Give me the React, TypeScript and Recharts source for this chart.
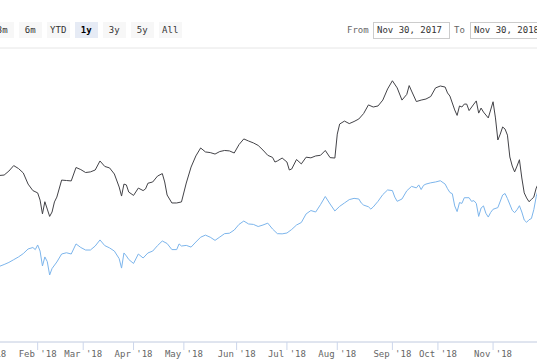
import React from 'react';
import { LineChart, Line, XAxis, YAxis, CartesianGrid } from 'recharts';

// trading-day index (0 = Nov 30, 2017) and value
const DARK_SERIES: [number, number][] = [
  [26, 179.3], [28, 179.5], [30, 181.4], [32, 184.0], [34, 182.6], [36, 180.5], [38, 175.2], [40, 172.1],
  [42, 171.0], [43, 167.6], [44, 161.0], [45, 166.8], [46, 163.3], [47, 159.8], [48, 161.9], [49, 166.7],
  [50, 169.0], [52, 177.1], [54, 176.9], [56, 176.7], [58, 183.1], [60, 182.1], [62, 180.7], [64, 181.0],
  [66, 181.9], [68, 186.2], [70, 183.6], [72, 182.9], [74, 180.0], [76, 173.8], [77, 169.5], [78, 175.2],
  [79, 174.8], [80, 171.4], [82, 169.8], [84, 173.3], [86, 172.1], [87, 172.9], [88, 175.6], [90, 176.2],
  [92, 179.0], [94, 180.2], [95, 176.2], [96, 170.0], [98, 166.2], [100, 166.2], [102, 166.7], [104, 175.7],
  [106, 183.3], [108, 188.6], [110, 192.4], [112, 190.5], [114, 190.2], [116, 189.5], [118, 190.7], [120, 191.2],
  [122, 191.0], [124, 190.0], [126, 194.0], [128, 196.7], [130, 195.7], [132, 194.8], [134, 193.6], [136, 191.4],
  [138, 188.9], [140, 187.9], [141, 185.7], [142, 186.2], [144, 187.6], [146, 185.7], [147, 181.9], [148, 182.4],
  [150, 186.9], [152, 184.8], [154, 188.0], [156, 187.7], [158, 188.6], [160, 188.9], [162, 191.2], [164, 187.8],
  [166, 187.6], [167, 199.0], [168, 203.8], [170, 205.2], [172, 204.0], [174, 205.0], [176, 206.2], [178, 208.8],
  [180, 212.9], [182, 211.9], [184, 212.4], [186, 215.2], [188, 220.5], [190, 224.4], [192, 221.0], [194, 215.2],
  [196, 217.9], [197, 222.1], [198, 219.5], [200, 214.5], [202, 215.2], [204, 215.7], [206, 216.9], [208, 221.0],
  [210, 221.9], [212, 221.4], [213, 218.6], [214, 217.1], [216, 210.5], [217, 207.9], [218, 212.4], [219, 211.9],
  [220, 213.3], [221, 213.3], [222, 210.2], [224, 213.3], [225, 214.8], [226, 209.0], [227, 211.4], [228, 209.5],
  [230, 206.7], [232, 214.4], [233, 206.7], [234, 196.2], [235, 199.0], [236, 202.4], [237, 201.4], [238, 198.5],
  [239, 188.1], [240, 183.8], [241, 181.0], [242, 183.8], [243, 186.8], [244, 178.1], [245, 171.0], [246, 168.6],
  [247, 166.8], [248, 167.9], [249, 169.0], [250, 173.3], [251, 175.7], [252, 177.1],
];

const BLUE_SERIES: [number, number][] = [
  [26, 136.0], [28, 136.9], [30, 137.9], [32, 139.2], [34, 140.5], [36, 142.1], [38, 144.3], [40, 145.0],
  [41, 144.0], [42, 146.2], [43, 143.3], [44, 136.2], [45, 140.5], [46, 138.3], [47, 131.9], [48, 135.0],
  [50, 138.1], [52, 141.9], [54, 142.5], [56, 141.9], [57, 144.3], [58, 146.7], [60, 145.0], [62, 143.8],
  [64, 143.8], [66, 145.7], [68, 148.6], [70, 145.9], [72, 144.8], [74, 143.3], [76, 139.7], [77, 135.2],
  [78, 142.4], [79, 141.0], [80, 139.3], [82, 137.4], [84, 141.9], [86, 140.0], [88, 142.4], [90, 143.3],
  [92, 145.9], [94, 148.1], [96, 146.9], [98, 144.0], [100, 144.0], [101, 146.7], [102, 145.7], [104, 146.0],
  [106, 145.2], [108, 147.6], [110, 149.9], [112, 150.9], [114, 149.9], [116, 148.4], [118, 150.0], [120, 151.6],
  [122, 151.8], [124, 153.3], [126, 156.0], [128, 157.6], [130, 156.2], [132, 156.0], [134, 155.0], [136, 155.7],
  [138, 156.6], [140, 153.8], [142, 151.6], [144, 151.5], [146, 151.9], [148, 153.6], [150, 155.7], [152, 156.9],
  [154, 161.0], [156, 162.6], [158, 161.9], [160, 165.4], [162, 169.3], [164, 165.7], [166, 162.4], [168, 164.6],
  [170, 166.2], [172, 167.8], [174, 168.4], [176, 168.1], [177, 166.2], [178, 165.2], [180, 164.4], [181, 163.3],
  [182, 164.3], [184, 167.0], [186, 170.2], [188, 172.4], [190, 172.1], [191, 169.0], [192, 167.0], [194, 168.1],
  [196, 172.0], [198, 174.1], [200, 173.4], [201, 174.8], [202, 172.6], [203, 174.6], [204, 175.2], [206, 175.8],
  [208, 176.2], [210, 176.8], [212, 175.2], [213, 173.0], [214, 171.2], [215, 170.6], [216, 164.8], [217, 162.1],
  [218, 166.4], [219, 166.0], [220, 168.7], [222, 168.7], [223, 167.0], [224, 167.3], [225, 166.0], [226, 159.8],
  [227, 163.8], [228, 164.8], [229, 161.3], [230, 159.5], [231, 161.7], [232, 163.2], [234, 164.0], [236, 170.0],
  [237, 170.7], [238, 168.3], [240, 162.7], [241, 161.6], [242, 163.0], [243, 164.9], [244, 161.9], [245, 158.1],
  [246, 157.0], [247, 158.2], [248, 158.8], [249, 163.0], [250, 169.2], [251, 173.3], [252, 174.8],
];

// first trading day of each month
const MONTH_TICKS = [21, 42, 61, 82, 103, 125, 146, 167, 190, 209, 232];
const MONTH_LABELS = ["Jan '18", "Feb '18", "Mar '18", "Apr '18", "May '18", "Jun '18", "Jul '18", "Aug '18", "Sep '18", "Oct '18", "Nov '18"];
const Y_TICKS = [100, 120, 140, 160, 180, 200, 220, 240];

const RANGE_BUTTONS = ['3m', '6m', 'YTD', '1y', '3y', '5y', 'All'];
const SELECTED_RANGE = '1y';
const FROM_DATE = 'Nov 30, 2017';
const TO_DATE = 'Nov 30, 2018';

const FONT = '"DejaVu Sans Mono", monospace';

const toPoints = (s: [number, number][]) => s.map(([i, v]) => ({ i, v }));

export default function App() {
  const dark = toPoints(DARK_SERIES);
  const blue = toPoints(BLUE_SERIES);
  const labelFor = (t: number) => MONTH_LABELS[MONTH_TICKS.indexOf(t)] ?? '';

  return (
    <div style={{
      position: 'relative', width: 537, height: 360, overflow: 'hidden',
      background: '#fff', fontFamily: FONT,
    }}>
      <style>{'body{margin:0}'}</style>

      <div style={{ position: 'absolute', left: -63, top: 0 }}>
        <LineChart width={604} height={372} margin={{ top: 48, right: 0, bottom: 0, left: 0 }}>
          <CartesianGrid vertical={false} stroke="#e6e6e6" />
          <XAxis
            type="number"
            dataKey="i"
            domain={[0, 252]}
            ticks={MONTH_TICKS}
            interval={0}
            tickFormatter={labelFor}
            height={30}
            axisLine={{ stroke: '#ccd6eb' }}
            tickLine={{ stroke: '#ccd6eb' }}
            tickSize={8}
            tickMargin={1}
            tick={{ fontSize: 9, fill: '#666', fontFamily: FONT }}
          />
          <YAxis
            type="number"
            domain={[100, 240]}
            ticks={Y_TICKS}
            width={0}
            tick={false}
            axisLine={false}
            tickLine={false}
          />
          <Line data={blue} dataKey="v" type="linear" stroke="#7cb5ec" strokeWidth={1}
            dot={false} activeDot={false} isAnimationActive={false} />
          <Line data={dark} dataKey="v" type="linear" stroke="#434348" strokeWidth={1}
            dot={false} activeDot={false} isAnimationActive={false} />
        </LineChart>
      </div>

      {/* range selector */}
      {RANGE_BUTTONS.map((b, idx) => (
        <div key={b} style={{
          position: 'absolute', left: -9.5 + idx * 28, top: 22, width: 23.5, height: 16,
          background: b === SELECTED_RANGE ? '#e6ebf5' : '#f7f7f7',
          color: b === SELECTED_RANGE ? '#000' : '#333',
          fontWeight: b === SELECTED_RANGE ? 700 : 400,
          fontSize: 9, lineHeight: '16px', textAlign: 'center',
        }}>{b}</div>
      ))}

      {/* date inputs */}
      <div style={{ position: 'absolute', left: 347, top: 22, fontSize: 9, lineHeight: '16px', color: '#666' }}>From</div>
      <div style={{
        position: 'absolute', left: 373, top: 21.5, width: 72, height: 15, border: '1px solid #ccc',
        fontSize: 9, lineHeight: '15px', color: '#333', paddingLeft: 3, boxSizing: 'content-box',
      }}>{FROM_DATE}</div>
      <div style={{ position: 'absolute', left: 454, top: 22, fontSize: 9, lineHeight: '16px', color: '#666' }}>To</div>
      <div style={{
        position: 'absolute', left: 470, top: 21.5, width: 72, height: 15, border: '1px solid #ccc',
        fontSize: 9, lineHeight: '15px', color: '#333', paddingLeft: 3, whiteSpace: 'nowrap',
      }}>{TO_DATE}</div>
    </div>
  );
}
